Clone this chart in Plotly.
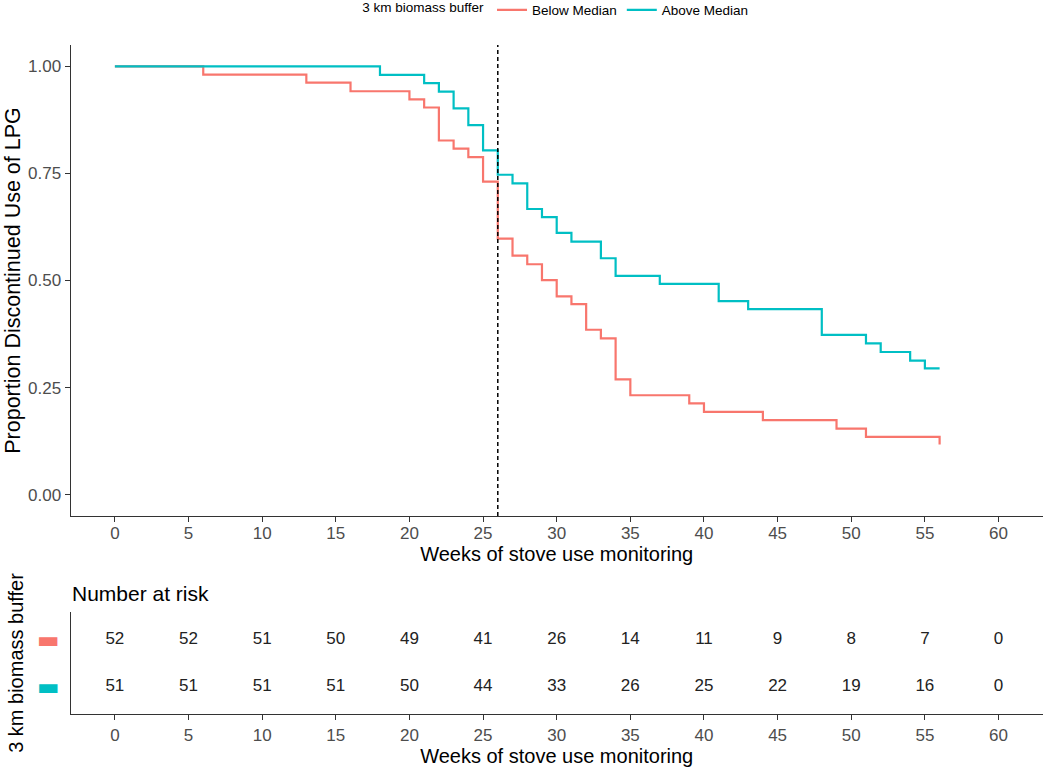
import plotly.graph_objects as go

# ---------------- data ----------------
below_weeks = [0, 6, 13, 16, 20, 21, 22, 23, 24, 25, 26, 27, 28, 29, 30, 31, 32, 33, 34, 35, 39, 40, 44, 49, 51, 56]
below_surv = [1.000, 0.981, 0.962, 0.942, 0.923, 0.904, 0.827, 0.808, 0.788, 0.731, 0.598, 0.558, 0.538, 0.501,
              0.463, 0.445, 0.385, 0.365, 0.269, 0.232, 0.213, 0.193, 0.174, 0.154, 0.135, 0.117]

above_weeks = [0, 18, 21, 22, 23, 24, 25, 26, 27, 28, 29, 30, 31, 33, 34, 37, 41, 43, 48, 51, 52, 54, 55, 56]
above_surv = [1.000, 0.980, 0.961, 0.941, 0.902, 0.863, 0.804, 0.747, 0.727, 0.667, 0.648, 0.611, 0.591, 0.552,
              0.511, 0.492, 0.452, 0.433, 0.373, 0.353, 0.333, 0.313, 0.295, 0.295]

risk_weeks = [0, 5, 10, 15, 20, 25, 30, 35, 40, 45, 50, 55, 60]
risk_below = [52, 52, 51, 50, 49, 41, 26, 14, 11, 9, 8, 7, 0]
risk_above = [51, 51, 51, 51, 50, 44, 33, 26, 25, 22, 19, 16, 0]

group_names = ["Below Median", "Above Median"]
group_colors = ["#F8766D", "#00BFC4"]
cutoff_week = 26

x_ticks = list(range(0, 61, 5))
y_ticks = [0, 0.25, 0.5, 0.75, 1.0]

# ---------------- figure ----------------
W, H = 1050, 769
FONT = "Liberation Sans, Arial, sans-serif"


def fx(p):
    return p / W


def fy(p):
    return 1 - p / H


fig = go.Figure()

fig.add_trace(go.Scatter(x=below_weeks, y=below_surv, mode="lines", line_shape="hv",
                         line=dict(color=group_colors[0], width=2.2), name=group_names[0],
                         xaxis="x", yaxis="y"))
fig.add_trace(go.Scatter(x=above_weeks, y=above_surv, mode="lines", line_shape="hv",
                         line=dict(color=group_colors[1], width=2.2), name=group_names[1],
                         xaxis="x", yaxis="y"))

# risk table
fig.add_trace(go.Scatter(x=risk_weeks, y=[2] * len(risk_weeks), mode="text",
                         text=[str(v) for v in risk_below], textfont=dict(size=17, color="#222", family=FONT),
                         showlegend=False, xaxis="x2", yaxis="y2", hoverinfo="skip"))
fig.add_trace(go.Scatter(x=risk_weeks, y=[1] * len(risk_weeks), mode="text",
                         text=[str(v) for v in risk_above], textfont=dict(size=17, color="#222", family=FONT),
                         showlegend=False, xaxis="x2", yaxis="y2", hoverinfo="skip"))

fig.add_shape(type="line", xref="x", yref="y domain", x0=cutoff_week, x1=cutoff_week, y0=0, y1=1,
              line=dict(color="black", width=1.5, dash="4px,3px"))

xdom = [fx(70.7), fx(1042.7)]
axis_common = dict(showgrid=False, zeroline=False, showline=True, linecolor="#333", linewidth=1.3,
                   automargin=False, tickfont=dict(size=17, color="#4D4D4D", family=FONT))

fig.update_layout(
    width=W, height=H,
    margin=dict(l=0, r=0, t=0, b=0, autoexpand=False),
    paper_bgcolor="white", plot_bgcolor="white",
    font=dict(family=FONT, color="black"),
    xaxis=dict(domain=xdom, anchor="y", range=[-3, 63], tickvals=x_ticks, ticks="outside", ticklen=5,
               tickcolor="#333", tickwidth=1.3, ticklabelstandoff=-4,
               title=dict(text="Weeks of stove use monitoring", font=dict(size=20, color="black"), standoff=5),
               **axis_common),
    yaxis=dict(domain=[fy(516), fy(45)], anchor="x", range=[-0.05, 1.05], tickvals=y_ticks, tickformat=".2f",
               ticks="outside", ticklen=5, tickcolor="#333", tickwidth=1.3,
               title=dict(text="Proportion Discontinued Use of LPG", font=dict(size=21.5, color="black"),
                          standoff=1),
               **axis_common),
    xaxis2=dict(domain=xdom, anchor="y2", range=[-3, 63], tickvals=x_ticks, ticks="outside", ticklen=5,
                tickcolor="#333", tickwidth=1.3, ticklabelstandoff=0,
                title=dict(text="Weeks of stove use monitoring", font=dict(size=20, color="black"), standoff=1),
                **axis_common),
    yaxis2=dict(domain=[fy(714.3), fy(611.7)], anchor="x2", range=[0.4, 2.6], tickvals=[2, 1],
                ticktext=[f'<span style="color:{group_colors[0]}">▬</span>',
                          f'<span style="color:{group_colors[1]}">▬</span>'],
                ticks="", ticklabelstandoff=5,
                title=dict(text="3 km biomass buffer", font=dict(size=20, color="black"), standoff=8),
                showgrid=False, zeroline=False, showline=True, linecolor="#333", linewidth=1.3,
                automargin=False, tickfont=dict(size=24, family="DejaVu Sans")),
    legend=dict(orientation="h", x=fx(556.7), xanchor="center", y=fy(10), yanchor="middle",
                title=dict(text="3 km biomass buffer", side="left", font=dict(size=13.5)),
                font=dict(size=13.5, color="black"), bgcolor="rgba(0,0,0,0)"),
    annotations=[dict(text="Number at risk", xref="paper", yref="paper", x=fx(70), y=fy(593),
                      xanchor="left", yanchor="middle", showarrow=False, font=dict(size=21, color="black"))],
)

# remove the browser's default 8px body margin so the figure sits at the page origin
fig.write_html("out.html", config={"displayModeBar": False},
               post_script="document.body.style.margin='0px';")
